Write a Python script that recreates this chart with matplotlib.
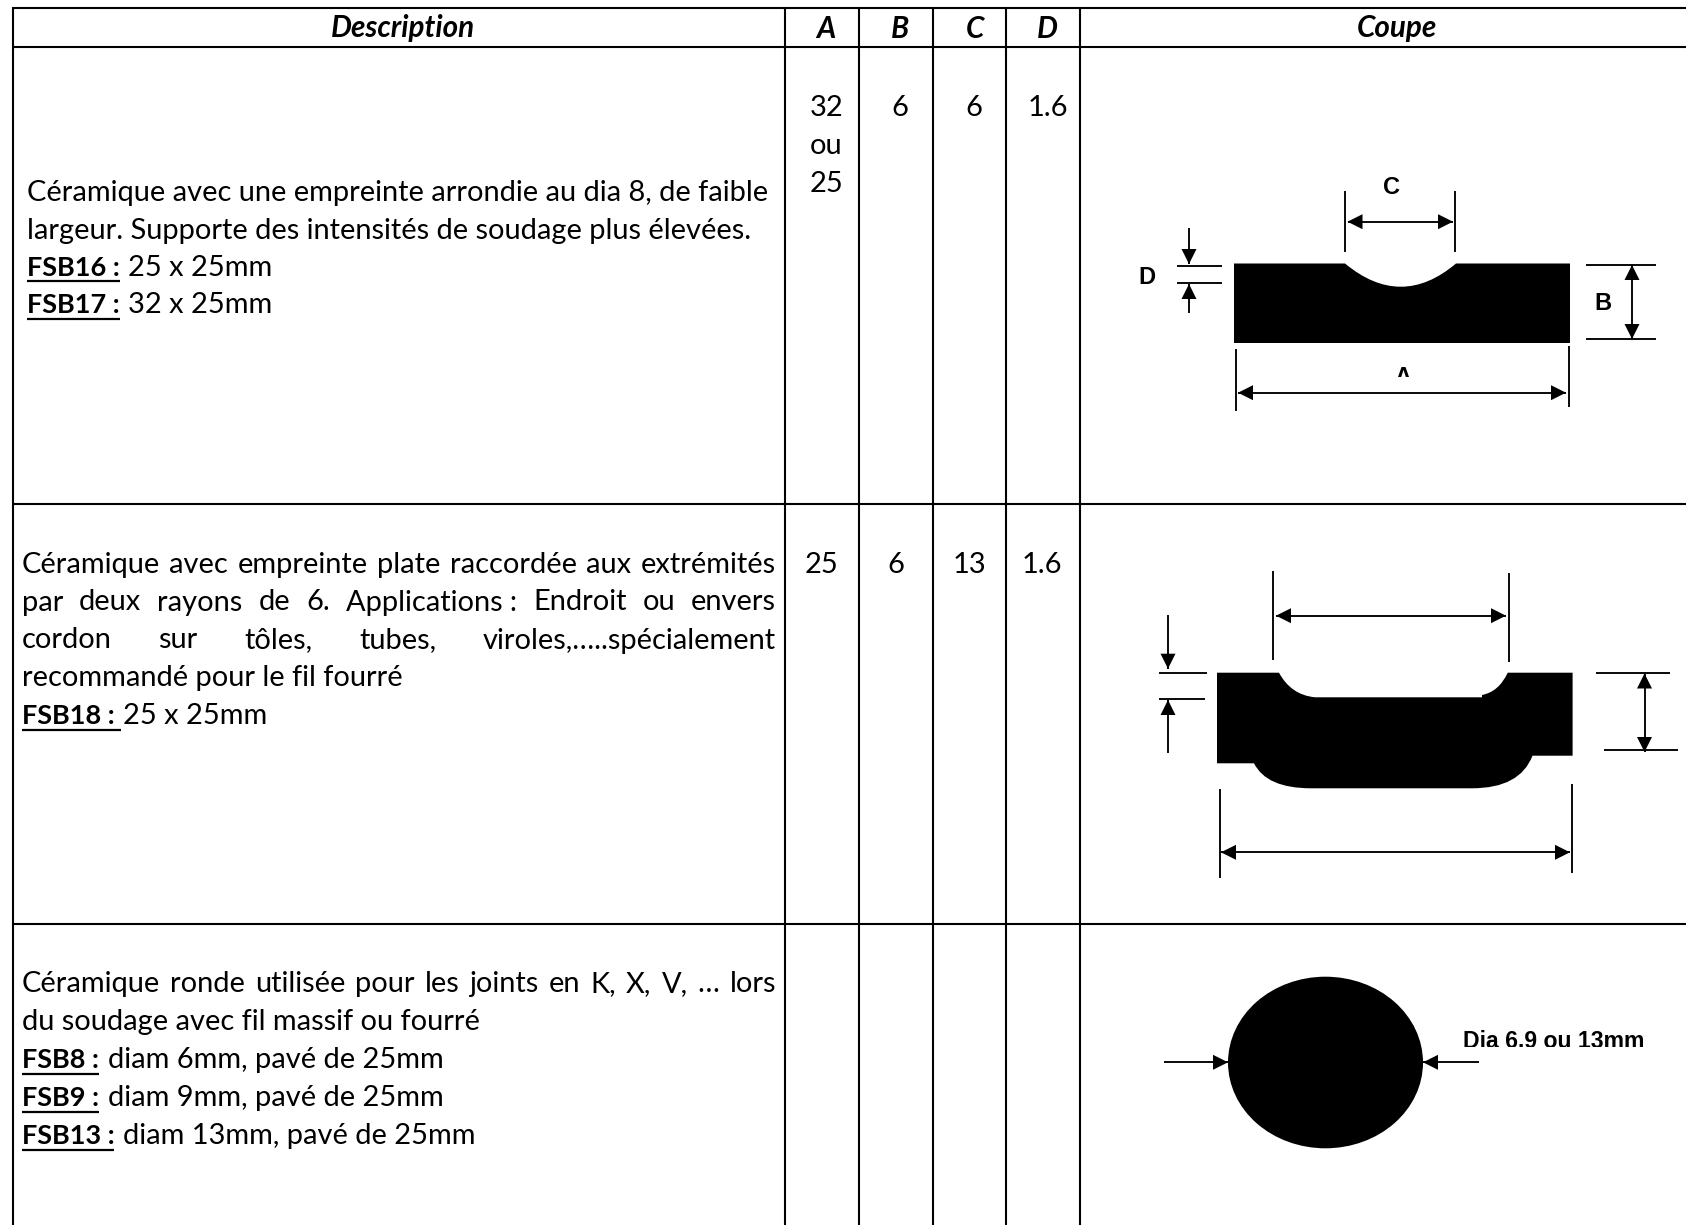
import matplotlib
matplotlib.use('Agg')
import matplotlib.pyplot as plt
from matplotlib.patches import Ellipse, PathPatch, Polygon, Rectangle
from matplotlib.path import Path

W, H = 1686, 1225
BODY_FONT = 'Lato'
LABEL_FONT = 'Liberation Sans'

headers = ['Description', 'A', 'B', 'C', 'D', 'Coupe']

row1_lines = ['Céramique avec une empreinte arrondie au dia 8, de faible',
              'largeur. Supporte des intensités de soudage plus élevées.']
row1_refs = [('FSB16 :', '25 x 25mm'), ('FSB17 :', '32 x 25mm')]
row2_lines = ['Céramique avec empreinte plate raccordée aux extrémités',
              'par deux rayons de 6. Applications\u202f: Endroit ou envers',
              'cordon sur tôles, tubes, viroles,…..spécialement',
              'recommandé pour le fil fourré']
row2_refs = [('FSB18 : ', '25 x 25mm')]
row3_lines = ['Céramique ronde utilisée pour les joints en K, X, V, … lors',
              'du soudage avec fil massif ou fourré']
row3_refs = [('FSB8 :', 'diam 6mm, pavé de 25mm'),
             ('FSB9 :', 'diam 9mm, pavé de 25mm'),
             ('FSB13 :', 'diam 13mm, pavé de 25mm')]

row1_a = ['32', 'ou', '25']
row1_vals = ['6', '6', '1.6']
row2_vals = ['25', '6', '13', '1.6']

fig = plt.figure(figsize=(W / 100, H / 100), dpi=100)
ax = fig.add_axes([0, 0, 1, 1])
ax.set_xlim(0, W)
ax.set_ylim(H, 0)
ax.axis('off')
renderer = fig.canvas.get_renderer()


def text_width(s, size, **kw):
    t = ax.text(0, 0, s, fontsize=size, family=BODY_FONT, **kw)
    w = t.get_window_extent(renderer).width
    t.remove()
    return w


FS = 20 * 745 / text_width(row1_lines[0], 20)
# Lato Bold runs wider than the original face, so the codes get their own size
BOLD_FS = 20 * 93 / text_width('FSB16 :', 20, fontweight='bold')


def put(x, y, s, size=None, **kw):
    return ax.text(x, y, s, fontsize=size or FS, family=BODY_FONT, va='baseline',
                   color='black', **kw)


def justified(x0, x1, y, s):
    words = s.split(' ')
    widths = [text_width(w, FS) for w in words]
    gap = (x1 - x0 - sum(widths)) / (len(words) - 1)
    x = x0
    for word, w in zip(words, widths):
        put(x, y, word)
        x += w + gap


def ref_line(x, y, code, rest, gap=8):
    put(x, y, code.rstrip(), size=BOLD_FS, fontweight='bold')
    shown = code.rstrip() + ('\u00a0' if code.endswith(' ') else '')
    w = text_width(shown, BOLD_FS, fontweight='bold')
    ax.plot([x, x + w], [y + 5.5, y + 5.5], color='black', lw=1.6, solid_capstyle='butt')
    put(x + w + gap, y, rest)


def seg(x0, y0, x1, y1, lw=1.35):
    ax.plot([x0, x1], [y0, y1], color='black', lw=lw, solid_capstyle='butt')


def head(x, y, dx, dy, size=15):
    px, py = -dy, dx
    ax.add_patch(Polygon([(x, y),
                          (x - dx * size + px * size / 2, y - dy * size + py * size / 2),
                          (x - dx * size - px * size / 2, y - dy * size - py * size / 2)],
                         color='black', lw=0))


def arrow(x0, y0, x1, y1, both=False):
    dx = (x1 > x0) - (x1 < x0)
    dy = (y1 > y0) - (y1 < y0)
    seg(x0, y0, x1, y1)
    head(x1, y1, dx, dy)
    if both:
        head(x0, y0, -dx, -dy)


def label(x, y, s):
    ax.text(x, y, s, fontsize=17, family=LABEL_FONT, fontweight='bold', ha='center', va='center')


# table grid
for y in [7.5, 46.5, 503.5, 924]:
    seg(12, y, W, y, 1.5)
for x in [12.5, 785, 859, 933, 1006, 1080]:
    seg(x, 7, x, H, 1.5)

header_x = [403, 826, 900, 975, 1047.5, 1397]
for x, h in zip(header_x, headers):
    put(x, 37.5, h, size=FS * 1.02, fontweight='bold', style='italic', ha='center')

# row 1
for y, s in zip([200.5, 238.5], row1_lines):
    put(27, y, s)
for y, (code, rest) in zip([275.7, 313.3], row1_refs):
    ref_line(27, y, code, rest)
for y, s in zip([115.5, 153.5, 191.5], row1_a):
    put(826.5, y, s, ha='center')
for x, s in zip([900, 974, 1047.5], row1_vals):
    put(x, 115.5, s, ha='center')

# row 2
for y, s in zip([572.7, 610.5, 648.5], row2_lines[:3]):
    justified(21.5, 776, y, s)
put(21.5, 686, row2_lines[3])
ref_line(21.5, 724, row2_refs[0][0], row2_refs[0][1], gap=2)
for x, s in zip([821.5, 895.5, 969, 1042], row2_vals):
    put(x, 572.7, s, ha='center')

# row 3
justified(21.5, 776, 992, row3_lines[0])
put(21.5, 1030, row3_lines[1])
for y, (code, rest) in zip([1068, 1106, 1144], row3_refs):
    ref_line(21.5, y, code, rest, gap=9)

# first section
verts = [(1234, 263.5), (1345, 263.5), (1401, 310), (1456, 263.5), (1570, 263.5),
         (1570, 343), (1234, 343), (1234, 263.5)]
codes = [Path.MOVETO, Path.LINETO, Path.CURVE3, Path.CURVE3, Path.LINETO,
         Path.LINETO, Path.LINETO, Path.CLOSEPOLY]
ax.add_patch(PathPatch(Path(verts, codes), facecolor='black', edgecolor='none'))
seg(1345, 191, 1345, 252)
seg(1455, 191, 1455, 252)
arrow(1347.5, 221.7, 1453, 221.7, both=True)
label(1391, 188, 'C')
seg(1177, 266, 1222, 266)
seg(1177, 283.3, 1222, 283.3)
arrow(1189, 227.7, 1189, 264)
arrow(1189, 312.7, 1189, 284)
label(1146.5, 277, 'D')
seg(1586, 264.5, 1656, 264.5)
seg(1586, 339, 1656, 339)
arrow(1632, 265, 1632, 339, both=True)
label(1603, 303, 'B')
seg(1236, 349.3, 1236, 410.7)
seg(1569, 346, 1569, 407.3)
arrow(1238, 392.7, 1566, 392.7, both=True)
# the original picture cuts these two labels off at the bottom
a_label = ax.text(1403, 383.6, 'A', fontsize=17, family=LABEL_FONT, fontweight='bold',
                  ha='center', va='baseline', clip_on=True)
a_label.set_clip_path(Rectangle((1380, 376.7), 50, -16.7, transform=ax.transData))

# second section
verts = [(1217, 672.7), (1279, 672.7), (1291, 695), (1315, 697.3), (1482, 697.3), (1482, 695),
         (1499, 691.7), (1507.7, 672.7), (1572.6, 672.7), (1572.6, 755.7), (1532.5, 755.7),
         (1520, 788.3), (1472, 788.3), (1311, 788.3), (1266.5, 788.3), (1254, 763.3),
         (1217, 763.3), (1217, 672.7)]
codes = [Path.MOVETO, Path.LINETO, Path.CURVE3, Path.CURVE3, Path.LINETO, Path.LINETO,
         Path.CURVE3, Path.CURVE3, Path.LINETO, Path.LINETO, Path.LINETO,
         Path.CURVE3, Path.CURVE3, Path.LINETO, Path.CURVE3, Path.CURVE3,
         Path.LINETO, Path.CLOSEPOLY]
ax.add_patch(PathPatch(Path(verts, codes), facecolor='black', edgecolor='none'))
seg(1273, 570.7, 1273, 660)
seg(1508.7, 573.3, 1508.7, 662.3)
arrow(1276, 615.7, 1506, 615.7, both=True)
seg(1159, 673.3, 1207, 673.3)
seg(1159, 699, 1205, 699)
arrow(1168, 615, 1168, 668.7)
arrow(1168, 753.3, 1168, 700)
seg(1596, 673.3, 1670, 673.3)
seg(1604, 750.3, 1678, 750.3)
arrow(1644.5, 673.5, 1644.5, 752, both=True)
seg(1219.7, 789, 1219.7, 878.3)
seg(1571.5, 784.3, 1571.5, 873.3)
arrow(1221, 852.3, 1570, 852.3, both=True)

# third section
ax.add_patch(Ellipse((1325.5, 1062.5), 195, 171.6, color='black', lw=0))
arrow(1164.4, 1062.3, 1228, 1062.3)
arrow(1479, 1062.3, 1423, 1062.3)
dia = ax.text(1462.6, 1048.2, 'Dia 6.9 ou 13mm', fontsize=16.6, family=LABEL_FONT,
              fontweight='bold', va='baseline', clip_on=True)
dia.set_clip_path(Rectangle((1455, 1047.3), 200, -22.3, transform=ax.transData))

fig.savefig('out.png', dpi=100)
